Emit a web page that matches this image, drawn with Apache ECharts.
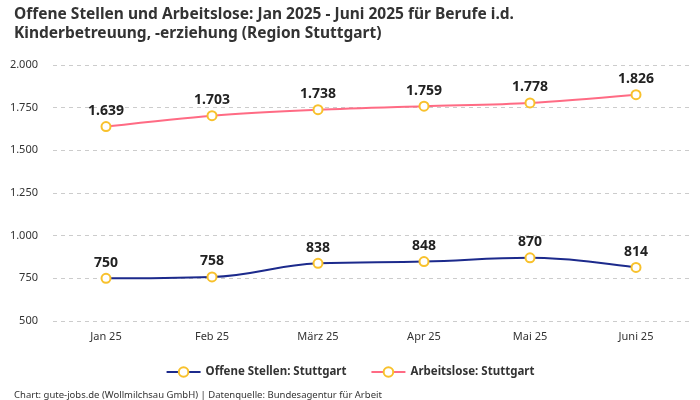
<!DOCTYPE html>
<html><head><meta charset="utf-8">
<script src="https://cdn.jsdelivr.net/npm/echarts@6/dist/echarts.min.js"></script>
<style>html,body{margin:0;padding:0;background:#fff}#c{width:700px;height:400px}</style>
</head><body><div id="c"></div>
<script>
const categories = ['Jan 25','Feb 25','März 25','Apr 25','Mai 25','Juni 25'];
const offeneStellen = [750, 758, 838, 848, 870, 814];
const arbeitslose = [1639, 1703, 1738, 1759, 1778, 1826];
const yTicks = {min: 500, max: 2000, interval: 250};

const fmt = v => String(v).replace(/\B(?=(\d{3})+(?!\d))/g, '.');
const FONT = "'Noto Sans', sans-serif";
const chart = echarts.init(document.getElementById('c'), null, {renderer:'canvas'});
const marker = {color:'#fff', borderColor:'#f8c12c', borderWidth:2};
chart.setOption({
  animation:false,
  textStyle:{fontFamily:FONT},
  title:[{
    text:'Offene Stellen und Arbeitslose: Jan 2025 - Juni 2025 für Berufe i.d.\nKinderbetreuung, -erziehung (Region Stuttgart)',
    left:9, top:0,
    textStyle:{fontSize:15.5, fontWeight:'bold', color:'#333', lineHeight:19, fontFamily:FONT}
  },{
    text:'Chart: gute-jobs.de (Wollmilchsau GmbH) | Datenquelle: Bundesagentur für Arbeit',
    left:9, top:385,
    textStyle:{fontSize:9.5, fontWeight:'normal', color:'#333', fontFamily:FONT}
  }],
  legend:{
    bottom:17, left:'center', itemGap:24, itemWidth:34, itemHeight:12,
    textStyle:{fontSize:11.5, fontWeight:'bold', color:'#333', fontFamily:FONT},
    data:['Offene Stellen: Stuttgart','Arbeitslose: Stuttgart']
  },
  grid:{left:53, right:11, top:65, bottom:79, containLabel:false},
  xAxis:{
    type:'category', data:categories, boundaryGap:true,
    axisLine:{show:false}, axisTick:{show:false},
    axisLabel:{fontSize:11, color:'#333', margin:10}
  },
  yAxis:{
    type:'value', min:yTicks.min, max:yTicks.max, interval:yTicks.interval,
    axisLabel:{fontSize:11, color:'#333', margin:15, formatter:v=>fmt(v)},
    splitLine:{lineStyle:{type:[4,4], color:'#ccc'}}
  },
  series:[{
    name:'Offene Stellen: Stuttgart', type:'line', data:offeneStellen, smooth:0.4,
    symbol:'circle', symbolSize:9, itemStyle:marker,
    lineStyle:{color:'#1c2a8c', width:2},
    label:{show:true, position:'top', distance:3, fontSize:14, fontWeight:'bold', color:'#222', formatter:p=>fmt(p.value)}
  },{
    name:'Arbeitslose: Stuttgart', type:'line', data:arbeitslose, smooth:0.3,
    symbol:'circle', symbolSize:9, itemStyle:marker,
    lineStyle:{color:'#ff6b84', width:2},
    label:{show:true, position:'top', distance:3, fontSize:14, fontWeight:'bold', color:'#222', formatter:p=>fmt(p.value)}
  }]
});
</script></body></html>
